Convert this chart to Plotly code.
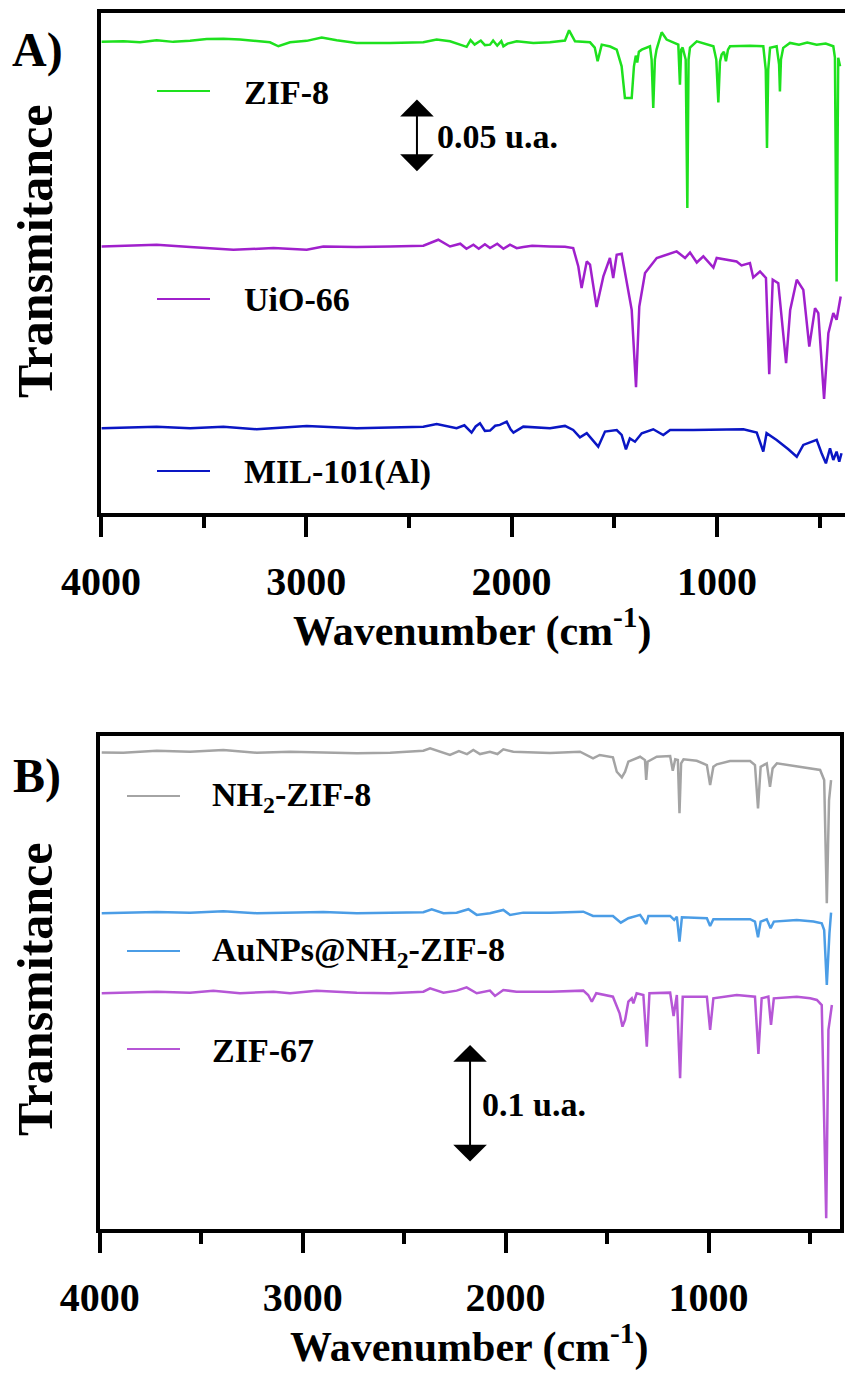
import plotly.graph_objects as go

# ---------------- Panel A: ZIF-8, UiO-66, MIL-101(Al) ----------------
zif8_wn = [3997, 3891, 3810, 3729, 3648, 3566, 3485, 3404, 3323, 3242, 3177, 3136, 3079, 2998, 2925, 2852,
           2755, 2592, 2430, 2365, 2300, 2219, 2200, 2180, 2150, 2130, 2105, 2090, 2070, 2050, 2040, 2020,
           1975, 1894, 1813, 1740, 1720, 1691, 1618, 1595, 1581, 1561, 1520, 1488, 1464, 1448, 1415, 1404,
           1395, 1388, 1380, 1366, 1326, 1318, 1310, 1302, 1294, 1269, 1245, 1188, 1180, 1174, 1167, 1152,
           1144, 1138, 1131, 1098, 1017, 1003, 993, 985, 977, 966, 956, 946, 936, 839, 774, 762,
           756, 750, 741, 709, 697, 693, 688, 677, 644, 600, 560, 514, 470, 433, 425, 417,
           409, 400]
zif8_t = [0.0005, 0.0009, 0.0002, 0.0016, 0.0005, 0.0012, 0.0025, 0.0027, 0.0021, 0.0012, 0.0002, -0.0025,
          0.0002, 0.0012, 0.0034, 0.0016, -0.0002, -0.0002, 0.0002, 0.0021, 0.0009, -0.0029, 0.0017, -0.0014,
          0.0014, -0.0017, -0.0014, 0.0014, -0.0021, 0.0010, -0.0025, -0.0007, 0.0009, -0.0002, 0.0002, 0.0014,
          0.0084, 0.0009, 0.0002, -0.0034, -0.0128, -0.0014, -0.0027, -0.0048, -0.0162, -0.0379, -0.0379, -0.0162,
          -0.0089, -0.0137, -0.0062, -0.0048, -0.0025, -0.0116, -0.0447, -0.0116, -0.0048, 0.0071, 0.0021, -0.0014,
          -0.0288, -0.0048, -0.0034, -0.0116, -0.1132, -0.0116, -0.0034, 0.0009, -0.0025, -0.0116, -0.0409, -0.0130,
          -0.0082, -0.0062, -0.0128, -0.0048, -0.0025, -0.0021, -0.0025, -0.0185, -0.0721, -0.0185, -0.0036, -0.0025,
          -0.0151, -0.0334, -0.0116, -0.0036, -0.0002, -0.0014, 0.0000, -0.0014, -0.0007, -0.0025, -0.0103, -0.1635,
          -0.0103, -0.0162]

uio66_wn = [3997, 3729, 3566, 3355, 3160, 2998, 2917, 2755, 2592, 2430, 2357, 2300, 2250, 2220, 2186, 2160,
            2130, 2105, 2070, 2040, 2008, 1975, 1943, 1900, 1813, 1740, 1700, 1675, 1659, 1634, 1618, 1586,
            1553, 1521, 1505, 1488, 1464, 1432, 1415, 1394, 1378, 1350, 1293, 1196, 1155, 1131, 1098, 1066,
            1017, 1001, 904, 880, 839, 823, 790, 761, 745, 728, 701, 663, 643, 611,
            579, 550, 522, 506, 478, 457, 433, 417, 409, 397]
uio66_t = [0.0002, 0.0014, -0.0002, -0.0021, -0.0009, -0.0021, 0.0002, -0.0002, 0.0002, 0.0007, 0.0048, 0.0002,
           0.0021, -0.0014, 0.0014, -0.0014, 0.0017, -0.0009, 0.0021, -0.0014, 0.0014, -0.0010, -0.0002, 0.0007,
           0.0002, 0.0000, -0.0009, -0.0135, -0.0283, -0.0101, -0.0123, -0.0413, -0.0203, -0.0077, -0.0214, -0.0055,
           -0.0048, -0.0283, -0.0432, -0.0961, -0.0409, -0.0180, -0.0077, -0.0032, -0.0077, -0.0039, -0.0108, -0.0066,
           -0.0142, -0.0077, -0.0101, -0.0128, -0.0112, -0.0210, -0.0169, -0.0214, -0.0872, -0.0226, -0.0249, -0.0797,
           -0.0432, -0.0226, -0.0295, -0.0683, -0.0420, -0.0454, -0.1041, -0.0591, -0.0454, -0.0500, -0.0443, -0.0340]

mil101_wn = [3997, 3729, 3566, 3404, 3242, 2998, 2755, 2430, 2365, 2268, 2230, 2195, 2175, 2154, 2130, 2105,
             2080, 2057, 2024, 2005, 1991, 1943, 1813, 1740, 1700, 1667, 1634, 1578, 1545, 1488, 1464, 1443,
             1424, 1399, 1366, 1310, 1261, 1228, 1115, 1001, 871, 806, 774, 758, 709, 652,
             611, 579, 530, 514, 490, 469, 449, 433, 417, 404, 393]
mil101_t = [-0.0002, 0.0009, -0.0002, 0.0009, -0.0009, 0.0014, -0.0002, 0.0009, 0.0027, -0.0002, 0.0018, -0.0032,
            0.0010, 0.0032, -0.0020, -0.0018, 0.0015, 0.0021, 0.0043, -0.0010, -0.0032, 0.0009, -0.0002, 0.0014,
            -0.0014, -0.0064, -0.0036, -0.0128, -0.0025, -0.0014, -0.0048, -0.0146, -0.0071, -0.0094, -0.0036, -0.0009,
            -0.0048, -0.0014, -0.0014, -0.0014, -0.0009, -0.0032, -0.0162, -0.0036, -0.0082, -0.0146, -0.0197, -0.0116,
            -0.0094, -0.0082, -0.0173, -0.0242, -0.0139, -0.0219, -0.0162, -0.0231, -0.0173]

# ---------------- Panel B: NH2-ZIF-8, AuNPs@NH2-ZIF-8, ZIF-67 ----------------
nh2zif8_wn = [3990, 3884, 3719, 3555, 3391, 3226, 3062, 2898, 2733, 2569, 2405, 2372, 2323, 2274, 2230, 2190,
              2159, 2126, 2077, 2040, 2011, 1962, 1781, 1633, 1569, 1536, 1471, 1452, 1427, 1411, 1395, 1370,
              1337, 1313, 1307, 1300, 1255, 1189, 1176, 1164, 1151, 1143, 1135, 1123, 1058, 1008, 992, 976,
              959, 894, 795, 771, 756, 743, 713, 697, 684, 663, 565, 483, 450, 430,
              417, 406, 396]
nh2zif8_t = [-0.0003, -0.0006, 0.0011, 0.0003, 0.0017, -0.0006, 0.0003, -0.0006, -0.0011, -0.0006, 0.0011, 0.0031,
             0.0003, -0.0025, 0.0008, -0.0017, 0.0017, -0.0017, 0.0003, -0.0017, 0.0023, 0.0003, -0.0008, 0.0003,
             -0.0053, -0.0025, -0.0045, -0.0167, -0.0214, -0.0167, -0.0082, -0.0062, -0.0040, -0.0068, -0.0237, -0.0082,
             -0.0040, -0.0034, -0.0158, -0.0062, -0.0068, -0.0519, -0.0096, -0.0062, -0.0074, -0.0110, -0.0280, -0.0125,
             -0.0104, -0.0076, -0.0076, -0.0110, -0.0477, -0.0125, -0.0096, -0.0294, -0.0138, -0.0096, -0.0119, -0.0138,
             -0.0152, -0.0237, -0.1282, -0.0407, -0.0237]

aunps_wn = [3990, 3719, 3555, 3391, 3226, 3062, 2898, 2733, 2569, 2405, 2364, 2306, 2241, 2183, 2142, 2077,
            2011, 1978, 1913, 1781, 1617, 1569, 1471, 1432, 1395, 1337, 1307, 1296, 1189, 1169, 1156, 1143,
            1131, 1008, 992, 976, 795, 771, 756, 743, 713, 694, 678, 565, 483, 442,
            430, 417, 404, 396]
aunps_t = [-0.0005, 0.0006, 0.0000, 0.0012, -0.0005, 0.0003, 0.0006, -0.0005, 0.0000, 0.0003, 0.0029, -0.0005,
           0.0000, 0.0029, -0.0019, -0.0005, 0.0023, -0.0019, 0.0000, 0.0000, 0.0008, -0.0028, -0.0028, -0.0085,
           -0.0047, -0.0019, -0.0096, -0.0028, -0.0028, -0.0062, -0.0034, -0.0246, -0.0039, -0.0047, -0.0113, -0.0056,
           -0.0056, -0.0076, -0.0208, -0.0076, -0.0056, -0.0132, -0.0076, -0.0062, -0.0076, -0.0090, -0.0147, -0.0612,
           -0.0174, 0.0000]

zif67_wn = [3990, 3884, 3719, 3555, 3440, 3309, 3144, 3062, 2931, 2733, 2569, 2405, 2372, 2306, 2241, 2192,
            2142, 2077, 2052, 2011, 1946, 1781, 1617, 1593, 1575, 1553, 1471, 1438, 1424, 1411, 1395, 1378,
            1370, 1354, 1321, 1304, 1291, 1189, 1172, 1156, 1140, 1127, 1008, 992, 976, 861,
            771, 754, 738, 705, 692, 678, 565, 499, 466, 442, 420, 409, 392]
zif67_t = [-0.0008, -0.0003, 0.0005, -0.0003, 0.0014, -0.0008, 0.0005, -0.0008, 0.0014, -0.0003, -0.0008, 0.0005,
           0.0034, -0.0003, 0.0014, 0.0042, -0.0008, 0.0014, -0.0031, 0.0019, 0.0005, 0.0005, 0.0014, -0.0023,
           -0.0080, -0.0008, -0.0037, -0.0178, -0.0291, -0.0235, -0.0080, -0.0051, -0.0093, -0.0008, -0.0023, -0.0461,
           -0.0008, -0.0003, -0.0201, -0.0023, -0.0728, -0.0037, -0.0037, -0.0319, -0.0051, -0.0023, -0.0037, -0.0523,
           -0.0051, -0.0037, -0.0277, -0.0051, -0.0037, -0.0051, -0.0065, -0.0108, -0.1914, -0.0319, -0.0108]

# vertical stacking offsets (u.a.)
offsets_a = {"ZIF-8": 0.3219, "UiO-66": 0.1822, "MIL-101(Al)": 0.0582}
offsets_b = {"NH2-ZIF-8": 0.4042, "AuNPs@NH2-ZIF-8": 0.2681, "ZIF-67": 0.2006}

scale_a = 0.05   # u.a. bar in panel A
scale_b = 0.1    # u.a. bar in panel B

W, H = 845, 1376
FONT = "Liberation Serif, Times New Roman, serif"


def fx(p):
    return p / W


def fy(p):
    return 1 - p / H


series_a = [
    ("ZIF-8", "ZIF-8", zif8_wn, zif8_t, "#1ee11e", 91),
    ("UiO-66", "UiO-66", uio66_wn, uio66_t, "#a020cc", 299),
    ("MIL-101(Al)", "MIL-101(Al)", mil101_wn, mil101_t, "#0a16c4", 471),
]
series_b = [
    ("NH2-ZIF-8", "NH<sub>2</sub>-ZIF-8", nh2zif8_wn, nh2zif8_t, "#a4a4a4", 796),
    ("AuNPs@NH2-ZIF-8", "AuNPs@NH<sub>2</sub>-ZIF-8", aunps_wn, aunps_t, "#4b9de6", 951),
    ("ZIF-67", "ZIF-67", zif67_wn, zif67_t, "#b656d6", 1049),
]

fig = go.Figure()
shapes = []
annotations = []
legend_font = dict(family=FONT, size=34, color="black", weight="bold")

for key, label, wn, t, color, ly in series_a:
    off = offsets_a[key]
    fig.add_trace(go.Scatter(x=wn, y=[off + v for v in t], mode="lines", name=key,
                             line=dict(color=color, width=2.5), xaxis="x", yaxis="y",
                             showlegend=False))
    shapes.append(dict(type="line", xref="paper", yref="paper", x0=fx(157), x1=fx(210),
                       y0=fy(ly), y1=fy(ly), line=dict(color=color, width=2)))
    annotations.append(dict(xref="paper", yref="paper", x=fx(242), y=fy(ly + 1), text=label,
                            showarrow=False, xanchor="left", yanchor="middle", font=legend_font))

for key, label, wn, t, color, ly in series_b:
    off = offsets_b[key]
    fig.add_trace(go.Scatter(x=wn, y=[off + v for v in t], mode="lines", name=key,
                             line=dict(color=color, width=2.5), xaxis="x2", yaxis="y2",
                             showlegend=False))
    shapes.append(dict(type="line", xref="paper", yref="paper", x0=fx(127), x1=fx(180),
                       y0=fy(ly), y1=fy(ly), line=dict(color=color, width=2)))
    annotations.append(dict(xref="paper", yref="paper", x=fx(210), y=fy(ly + 1), text=label,
                            showarrow=False, xanchor="left", yanchor="middle", font=legend_font))

# scale bars (double-headed arrows spanning the stated u.a.)
bar_a_x, bar_a_mid = 2461, 0.2579
bar_b_x, bar_b_mid = 2175, 0.1059
for xr, yr, bx, mid, span, label, tx in [
    ("x", "y", bar_a_x, bar_a_mid, scale_a, "0.05 u.a.", 2373),
    ("x2", "y2", bar_b_x, bar_b_mid, scale_b, "0.1 u.a.", 2126),
]:
    annotations.append(dict(xref=xr, yref=yr, axref=xr, ayref=yr,
                            x=bx, y=mid + span / 2, ax=bx, ay=mid - span / 2,
                            text="", showarrow=True, arrowside="end+start",
                            arrowhead=1, startarrowhead=1, arrowsize=2.8, startarrowsize=2.8,
                            arrowwidth=2, arrowcolor="black", standoff=0, startstandoff=0))
    annotations.append(dict(xref=xr, yref=yr, x=tx, y=mid, text=label, showarrow=False,
                            xanchor="left", yanchor="middle", font=legend_font))

# panel letters, y titles, x titles
for txt, y in [("A)", 50), ("B)", 776)]:
    annotations.append(dict(xref="paper", yref="paper", x=fx(37), y=fy(y), text=txt,
                            showarrow=False, xanchor="center", yanchor="middle",
                            font=dict(family=FONT, size=48, color="black", weight="bold")))
for y in [252, 990]:
    annotations.append(dict(xref="paper", yref="paper", x=fx(35), y=fy(y), text="Transmitance",
                            textangle=-90, showarrow=False, xanchor="center", yanchor="middle",
                            font=dict(family=FONT, size=50, color="black", weight="bold")))
for xc, y in [(473, 628), (470, 1344)]:
    annotations.append(dict(xref="paper", yref="paper", x=fx(xc), y=fy(y),
                            text="Wavenumber (cm<sup>-1</sup>)", showarrow=False,
                            xanchor="center", yanchor="middle",
                            font=dict(family=FONT, size=42, color="black", weight="bold")))

tickfont = dict(family=FONT, size=40, color="black", weight="bold")
xcommon = dict(showline=True, linecolor="black", linewidth=4, ticks="outside", ticklen=20,
               tickwidth=4, tickcolor="black", dtick=1000, tick0=0, tickfont=tickfont,
               showgrid=False, zeroline=False, ticklabelstandoff=10, automargin=False,
               minor=dict(ticks="outside", ticklen=11, tickwidth=4, tickcolor="black", dtick=500, tick0=0,
                          showgrid=False))
ycommon = dict(showline=True, linecolor="black", linewidth=4, ticks="", showticklabels=False,
               showgrid=False, zeroline=False, automargin=False)

fig.update_layout(
    width=W, height=H,
    margin=dict(l=0, r=0, t=0, b=0, autoexpand=False),
    paper_bgcolor="white", plot_bgcolor="white",
    showlegend=False,
    xaxis=dict(**xcommon, domain=[fx(101), 1.0], range=[4000, 376], mirror=True, anchor="y"),
    yaxis=dict(**ycommon, domain=[fy(513), fy(12.5)], range=[0, 0.3425], mirror=False, anchor="x"),
    xaxis2=dict(**xcommon, domain=[fx(99.7), fx(840)], range=[4000, 352], mirror=True, anchor="y2"),
    yaxis2=dict(**ycommon, domain=[fy(1229), fy(736)], range=[0, 0.4178], mirror=True, anchor="x2"),
    shapes=shapes,
    annotations=annotations,
)

fig.write_html("out.html")
